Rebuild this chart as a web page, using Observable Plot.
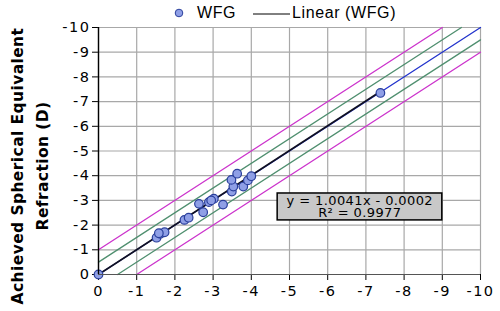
<!DOCTYPE html>
<html><head><meta charset="utf-8">
<script src="https://cdn.jsdelivr.net/npm/d3@7"></script>
<script src="https://cdn.jsdelivr.net/npm/@observablehq/plot@0.6"></script>
<style>
html,body{margin:0;padding:0;background:#fff;width:500px;height:311px;overflow:hidden}
#legend{height:22px;position:relative;font-family:"Liberation Sans",Arial,sans-serif;font-size:16px;color:#000;letter-spacing:0.6px}
#legend span{position:absolute;top:3px;white-space:nowrap;line-height:20px}
#chart svg{overflow:visible}
#chart g[aria-label$="tick label"] text{letter-spacing:1.5px}
#chart g[aria-label="text"] text{letter-spacing:0.4px}
</style></head>
<body>
<div id="legend"></div>
<div id="chart"></div>
<script>
// Scatter data (attempted vs achieved spherical equivalent, D)
const wfgX = [0, -1.52, -1.62, -1.73, -1.58, -2.25, -2.36, -2.74, -2.63, -2.89, -3.02, -2.95, -3.26, -3.49, -3.53, -3.48, -3.63, -3.79, -3.91, -4.00, -7.38];
const wfgY = [0, -1.49, -1.65, -1.71, -1.67, -2.21, -2.30, -2.52, -2.86, -2.93, -3.07, -3.00, -2.83, -3.36, -3.56, -3.83, -4.08, -3.56, -3.81, -3.98, -7.35];
// Reference lines
const identityX = [0, -10], identityY = [0, -10];
const greenUpX = [0, -9.5], greenUpY = [-0.5, -10];
const greenLoX = [-0.5, -10], greenLoY = [0, -9.5];
const magUpX = [0, -9], magUpY = [-1, -10];
const magLoX = [-1, -10], magLoY = [0, -9];
// Linear trend (WFG)
const fitX = [0, -7.38], fitY = [-0.0002, -7.41];
// Ticks
const ticks = [0, -1, -2, -3, -4, -5, -6, -7, -8, -9, -10];
// Annotation
const eqText = "y = 1.0041x - 0.0002\nR² = 0.9977";
const eqBox = {x1: -4.69, x2: -9.0, y1: -3.28, y2: -2.19};
const eqPos = {x: -6.84, y: -2.74};
const yLabel = "Achieved Spherical Equivalent\nRefraction (D)";

const pts = wfgX.map((x, i) => ({x, y: wfgY[i]}));
const seg = (xs, ys) => xs.map((x, i) => ({x, y: ys[i]}));

// legend
const lg = document.getElementById("legend");
lg.innerHTML = `
<svg width="500" height="22" style="position:absolute;left:0;top:0">
<circle cx="179" cy="13" r="3.8" fill="#8f9fe6" stroke="#2a3f9c" stroke-width="1"/>
<line x1="253" x2="290" y1="14" y2="14" stroke="#000" stroke-width="1"/>
</svg>
<span style="left:197px">WFG</span><span style="left:292px">Linear (WFG)</span>`;

const font = "DejaVu Sans, Verdana, sans-serif";
const plot = Plot.plot({
  width: 500, height: 289,
  marginLeft: 98, marginRight: 20, marginTop: 5, marginBottom: 37,
  style: {fontFamily: font, fontSize: "14.5px", color: "#000", background: "#fff", overflow: "visible"},
  x: {domain: [0, -10], ticks, tickFormat: d => String(d), label: null, tickSize: 6, tickPadding: 5},
  y: {domain: [0, -10], ticks, tickFormat: d => String(d), label: null, tickSize: 6, tickPadding: 2},
  marks: [
    Plot.gridX(ticks, {stroke: "#a8a8a8", strokeOpacity: 1, strokeWidth: 1.2}),
    Plot.gridY(ticks, {stroke: "#a8a8a8", strokeOpacity: 1, strokeWidth: 1.2}),
    Plot.line(seg(magUpX, magUpY), {x: "x", y: "y", stroke: "#cc33cc", strokeWidth: 1.3}),
    Plot.line(seg(magLoX, magLoY), {x: "x", y: "y", stroke: "#cc33cc", strokeWidth: 1.3}),
    Plot.line(seg(greenUpX, greenUpY), {x: "x", y: "y", stroke: "#4f8f6f", strokeWidth: 1.3}),
    Plot.line(seg(greenLoX, greenLoY), {x: "x", y: "y", stroke: "#4f8f6f", strokeWidth: 1.3}),
    Plot.line(seg(identityX, identityY), {x: "x", y: "y", stroke: "#2233cc", strokeWidth: 1.3}),
    Plot.line(seg(fitX, fitY), {x: "x", y: "y", stroke: "#111122", strokeWidth: 1.6}),
    Plot.dot(pts, {x: "x", y: "y", r: 4.3, fill: "#8f9fe6", stroke: "#2a3f9c", strokeWidth: 1.2, fillOpacity: 1}),
    Plot.ruleY([0], {stroke: "#555", strokeWidth: 1.2}),
    Plot.ruleX([0], {stroke: "#000", strokeWidth: 1.4}),
    Plot.rect([eqBox], {x1: "x1", x2: "x2", y1: "y1", y2: "y2", fill: "#c8c8c8", stroke: "#000", strokeWidth: 1.5}),
    Plot.text([eqPos], {x: "x", y: "y", text: () => eqText, fontFamily: font, fontSize: 13, lineHeight: 0.97, fill: "#000"}),
    Plot.text([0], {frameAnchor: "left", textAnchor: "middle", dx: -71, dy: 15, rotate: -90, text: () => yLabel, fontWeight: "bold", fontSize: 15.5, lineHeight: 1.65, fill: "#000", fontFamily: font})
  ]
});
document.getElementById("chart").appendChild(plot);
</script>
</body></html>
